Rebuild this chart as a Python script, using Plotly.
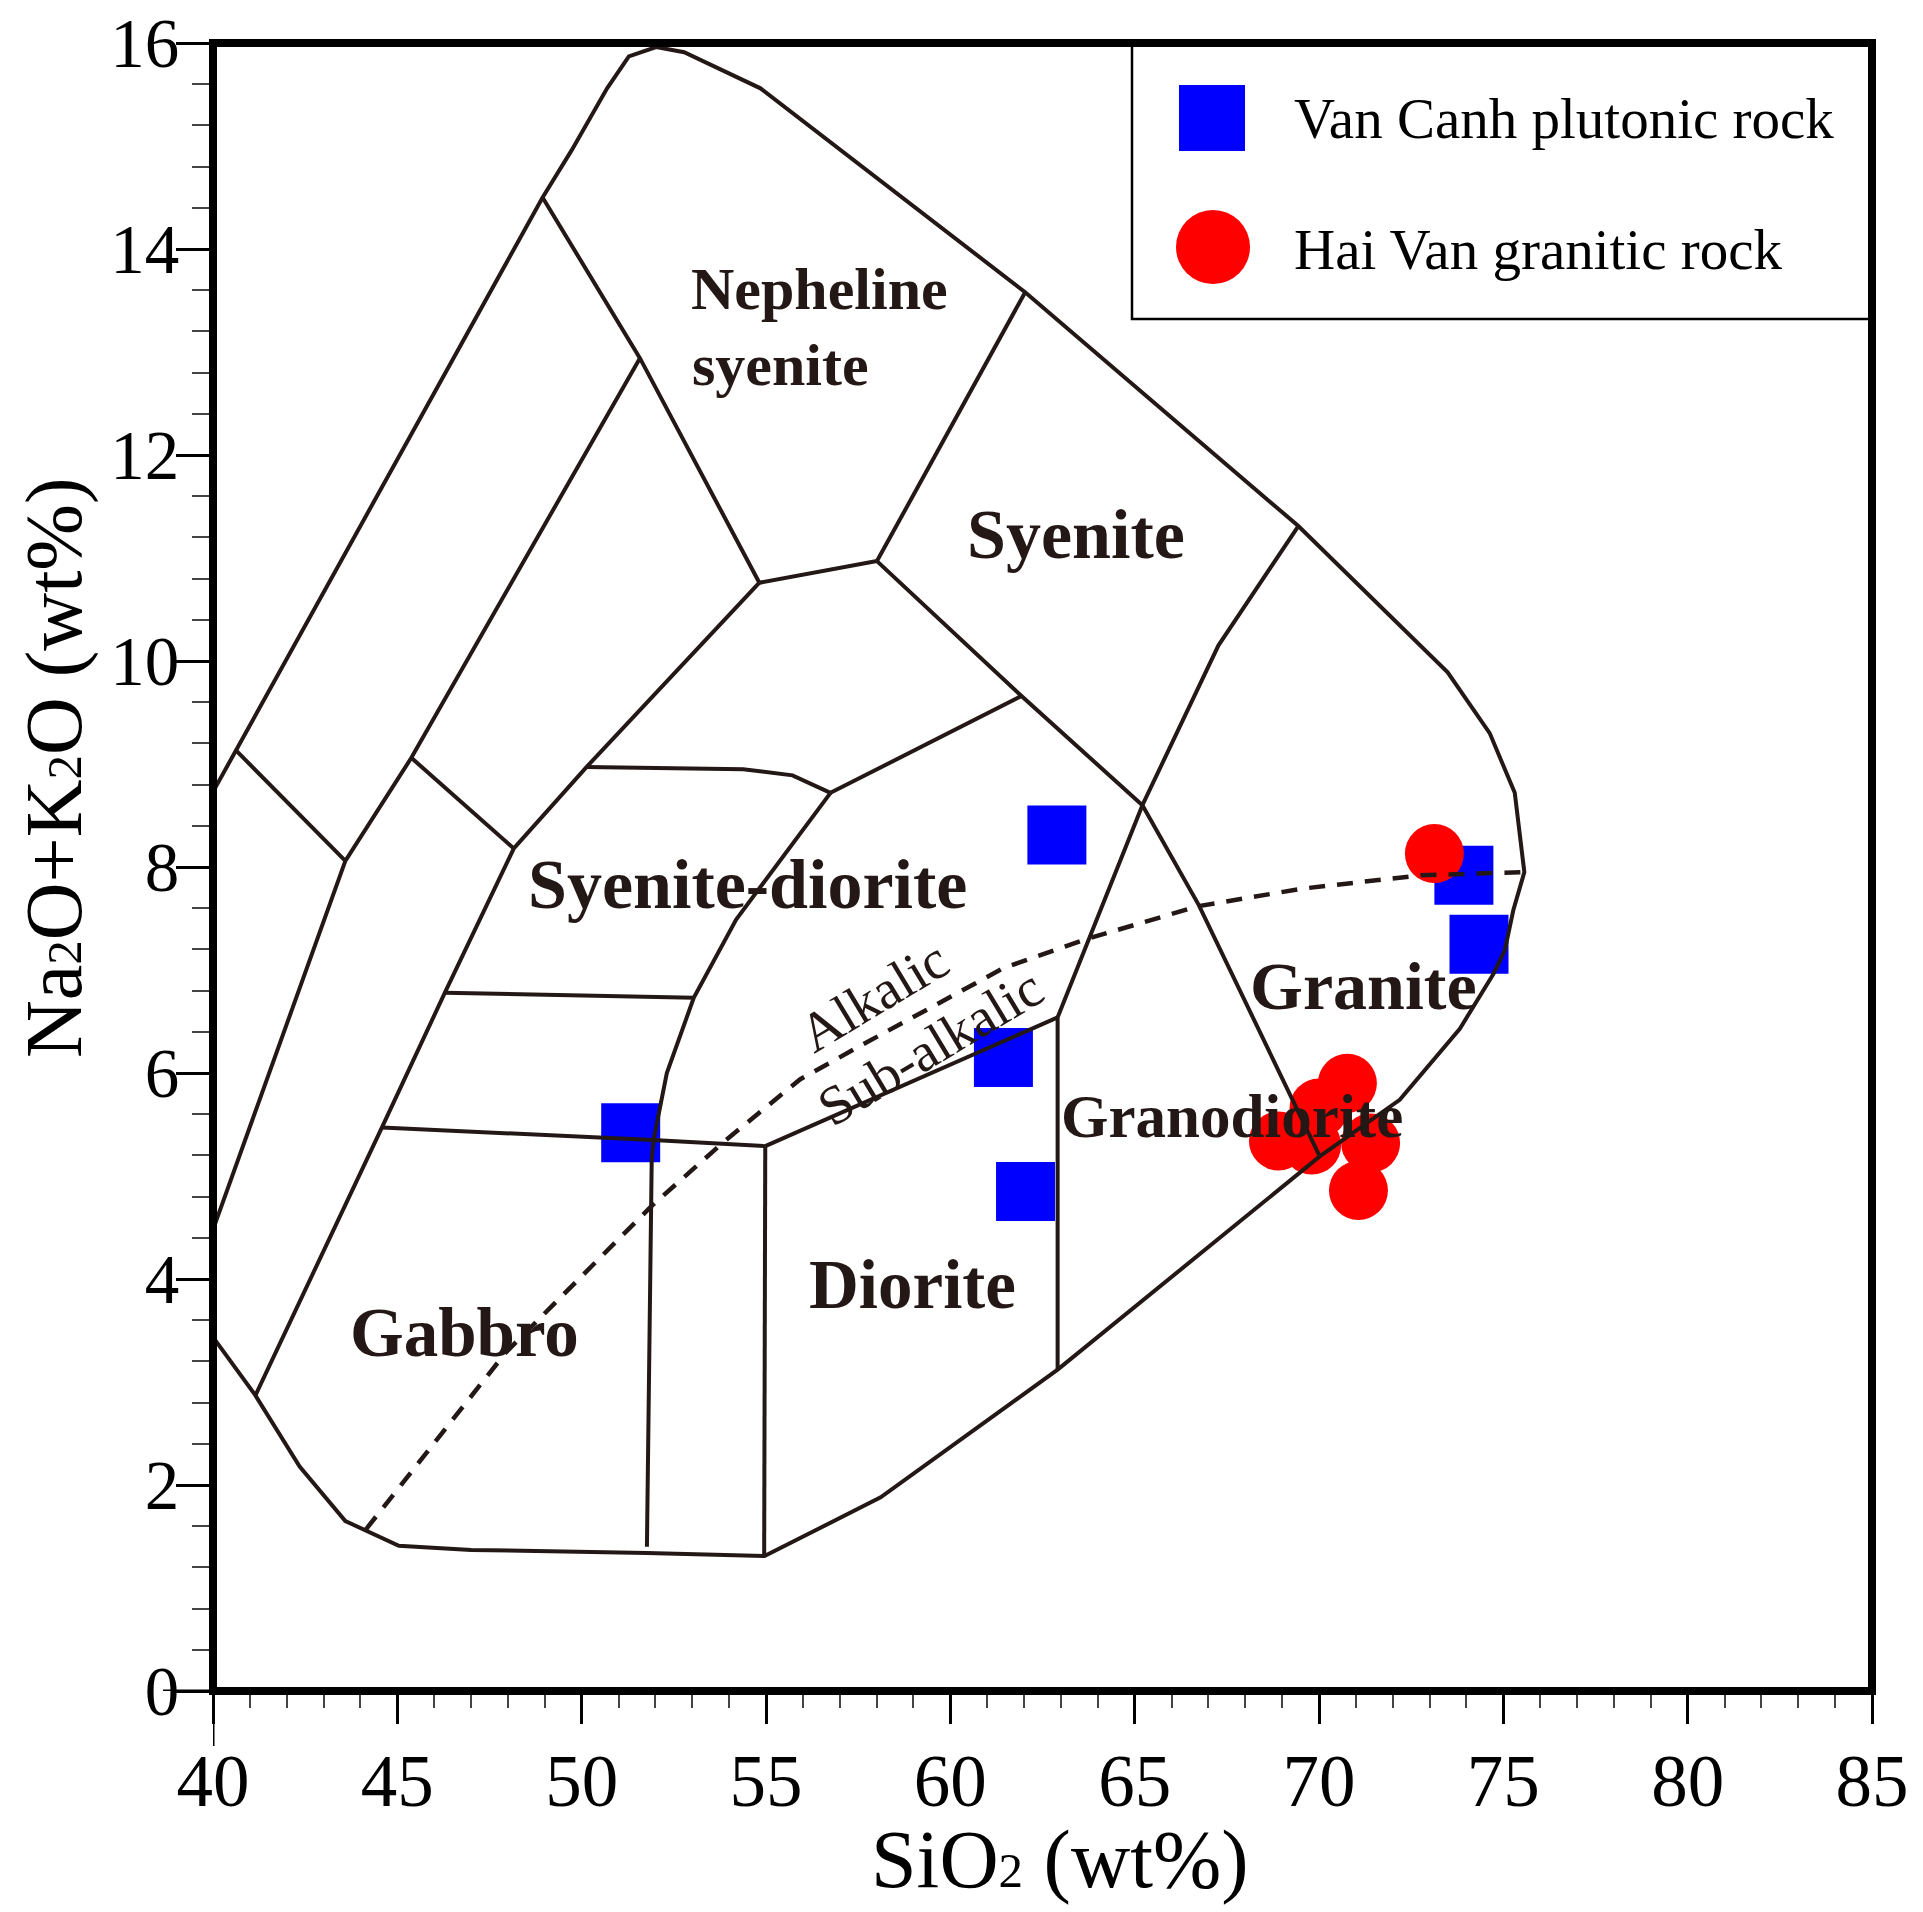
import plotly.graph_objects as go

# ---------------- data ----------------
van_canh_sio2 = [51.33, 62.89, 61.44, 62.04, 73.93, 74.34]
van_canh_alk = [5.42, 8.31, 6.15, 4.85, 7.92, 7.25]

hai_van_sio2 = [73.13, 70.77, 70.00, 68.90, 71.40, 71.07, 69.80]
hai_van_alk = [8.13, 5.90, 5.66, 5.34, 5.32, 4.86, 5.30]

# TAS (plutonic) field boundaries
outer_x = [40.00, 48.94, 49.73, 50.69, 51.28, 52.02, 52.78, 54.85, 62.03, 69.44,
           73.49, 74.63, 75.31, 75.57, 75.27, 75.04, 74.73, 73.82, 72.19, 70.02,
           62.91, 58.11, 54.96, 51.77, 47.00, 45.04, 43.59, 42.35, 41.15, 40.01]
outer_y = [8.73, 14.50, 14.96, 15.56, 15.87, 15.96, 15.91, 15.56, 13.58, 11.31,
           9.89, 9.30, 8.72, 7.95, 7.58, 7.19, 6.96, 6.43, 5.74, 5.19,
           3.12, 1.88, 1.31, 1.34, 1.37, 1.41, 1.65, 2.18, 2.87, 3.43]

l1_x = [48.94, 51.58, 54.82]; l1_y = [14.50, 12.94, 10.76]
l2_x = [54.82, 58.01]; l2_y = [10.76, 10.97]
l3_x = [58.01, 62.03]; l3_y = [10.97, 13.58]
l4_x = [58.01, 61.93, 65.21]; l4_y = [10.97, 9.66, 8.60]
l5_x = [65.21, 67.27, 69.44]; l5_y = [8.60, 10.15, 11.31]
l6_x = [65.21, 66.74, 70.02]; l6_y = [8.60, 7.63, 5.19]
l7_x = [65.21, 62.91, 62.91]; l7_y = [8.60, 6.54, 3.12]
l8_x = [54.82, 50.13, 48.16, 46.29, 44.58, 41.15]; l8_y = [10.76, 8.97, 8.18, 6.78, 5.47, 2.87]
l9_x = [50.13, 54.38, 55.72, 56.75]; l9_y = [8.97, 8.95, 8.89, 8.72]
l10_x = [56.75, 61.93]; l10_y = [8.72, 9.66]
l11_x = [56.75, 54.19, 53.04, 52.31, 51.95, 51.90, 51.77]
l11_y = [8.72, 7.49, 6.73, 6.00, 5.35, 5.16, 1.40]
l12_x = [46.29, 53.04]; l12_y = [6.78, 6.73]
l13_x = [44.58, 51.93, 54.98]; l13_y = [5.47, 5.35, 5.29]
l14_x = [54.98, 54.95]; l14_y = [5.29, 1.31]
l15_x = [54.98, 62.91]; l15_y = [5.29, 6.54]
l16_x = [40.63, 43.59]; l16_y = [9.13, 8.06]
l17_x = [40.00, 43.59, 45.38, 51.58]; l17_y = [4.48, 8.06, 9.06, 12.94]
l18_x = [45.38, 48.16]; l18_y = [9.06, 8.18]

# alkalic / sub-alkalic divide
div_x = [44.15, 47.95, 51.90, 53.85, 55.93, 57.64, 61.45, 63.78, 66.73, 69.55, 72.77, 75.57]
div_y = [1.57, 3.29, 4.71, 5.33, 5.94, 6.28, 7.02, 7.31, 7.62, 7.79, 7.92, 7.95]

x_ticks = [40, 45, 50, 55, 60, 65, 70, 75, 80, 85]
y_ticks = [0, 2, 4, 6, 8, 10, 12, 14, 16]

# ---------------- figure ----------------
W, H = 1923, 1912
PL, PR, PT, PB = 213, 1872, 43, 1691  # plot area, page pixels
LINE = "#231815"
SERIF = "Liberation Serif"


def px(xp):
    return (xp - PL) / (PR - PL)


def py(yp):
    return (PB - yp) / (PB - PT)


fig = go.Figure()

fig.add_trace(go.Scatter(x=van_canh_sio2, y=van_canh_alk, mode="markers",
                         name="Van Canh plutonic rock", showlegend=False,
                         marker=dict(symbol="square", size=59, color="#0000FF",
                                     line=dict(width=0))))
fig.add_trace(go.Scatter(x=hai_van_sio2, y=hai_van_alk, mode="markers",
                         name="Hai Van granitic rock", showlegend=False,
                         marker=dict(symbol="circle", size=59, color="#FF0000",
                                     line=dict(width=0))))

boundaries = [(outer_x, outer_y), (l1_x, l1_y), (l2_x, l2_y), (l3_x, l3_y),
              (l4_x, l4_y), (l5_x, l5_y), (l6_x, l6_y), (l7_x, l7_y),
              (l8_x, l8_y), (l9_x, l9_y), (l10_x, l10_y), (l11_x, l11_y),
              (l12_x, l12_y), (l13_x, l13_y), (l14_x, l14_y), (l15_x, l15_y),
              (l16_x, l16_y), (l17_x, l17_y), (l18_x, l18_y)]
for bx, by in boundaries:
    fig.add_trace(go.Scatter(x=bx, y=by, mode="lines", showlegend=False,
                             hoverinfo="skip",
                             line=dict(color=LINE, width=4)))

fig.add_trace(go.Scatter(x=div_x, y=div_y, mode="lines", showlegend=False,
                         hoverinfo="skip",
                         line=dict(color=LINE, width=4.5, dash="16px,12px")))

# field labels
labels = [
    ("Syenite", 63.41, 11.23, 70, "center"),
    ("Syenite-diorite", 54.51, 7.83, 70, "center"),
    ("Granite", 71.20, 6.84, 68, "center"),
    ("Granodiorite", 67.65, 5.58, 61, "center"),
    ("Diorite", 58.97, 3.94, 69, "center"),
    ("Gabbro", 46.81, 3.48, 69, "center"),
    ("Nepheline", 52.91, 13.61, 60, "left"),
    ("syenite", 52.93, 12.87, 60, "left"),
]
for txt, lx, ly, fs, anc in labels:
    fig.add_annotation(x=lx, y=ly, xref="x", yref="y", text="<b>%s</b>" % txt,
                       showarrow=False, xanchor=anc, yanchor="middle",
                       font=dict(family=SERIF, size=fs, color=LINE))

fig.add_annotation(x=57.92, y=6.74, xref="x", yref="y", text="Alkalic",
                   showarrow=False, textangle=-31,
                   font=dict(family=SERIF, size=55, color=LINE))
fig.add_annotation(x=59.45, y=6.25, xref="x", yref="y", text="Sub-alkalic",
                   showarrow=False, textangle=-31,
                   font=dict(family=SERIF, size=55, color=LINE))

# axis titles
sub2 = "<span style='font-size:49px'>2</span>"
fig.add_annotation(x=px(1060), y=py(1860), xref="paper", yref="paper",
                   text="SiO" + sub2 + " (wt%)", showarrow=False,
                   xanchor="center", yanchor="middle",
                   font=dict(family=SERIF, size=82, color="black"))
fig.add_annotation(x=px(54), y=py(768), xref="paper", yref="paper",
                   text="Na" + sub2 + "O+K" + sub2 + "O (wt%)", showarrow=False,
                   textangle=-90, xanchor="center", yanchor="middle",
                   font=dict(family=SERIF, size=80, color="black"))

# manual legend
fig.add_shape(type="rect", xref="paper", yref="paper",
              x0=px(1132), x1=1, y0=py(319), y1=1,
              line=dict(color="black", width=2.5), fillcolor="white", layer="below")
fig.add_shape(type="rect", xref="paper", yref="paper",
              x0=px(1179), x1=px(1245), y0=py(151), y1=py(85),
              line=dict(width=0), fillcolor="#0000FF")
fig.add_shape(type="circle", xref="paper", yref="paper",
              x0=px(1176), x1=px(1250), y0=py(284), y1=py(210),
              line=dict(width=0), fillcolor="#FF0000")
fig.add_annotation(x=px(1292), y=py(119), xref="paper", yref="paper",
                   text="Van Canh plutonic rock", showarrow=False,
                   xanchor="left", yanchor="middle",
                   font=dict(family=SERIF, size=57, color="black"))
fig.add_annotation(x=px(1292), y=py(249), xref="paper", yref="paper",
                   text="Hai Van granitic rock", showarrow=False,
                   xanchor="left", yanchor="middle",
                   font=dict(family=SERIF, size=57, color="black"))

# thick frame centred on the plot edges
fig.add_shape(type="rect", xref="paper", yref="paper", x0=0, x1=1, y0=0, y1=1,
              line=dict(color="black", width=8), fillcolor="rgba(0,0,0,0)",
              layer="above")

# extended ticks at the origin
fig.add_shape(type="line", xref="x", yref="paper", x0=40, x1=40, y0=0,
              y1=-55 / (PB - PT), line=dict(color="black", width=3))
fig.add_shape(type="line", xref="paper", yref="y", x0=0, x1=-50 / (PR - PL),
              y0=0, y1=0, line=dict(color="black", width=3))

fig.update_xaxes(range=[40, 85], tickvals=x_ticks, ticktext=[str(v) for v in x_ticks],
                 ticks="outside", ticklen=32, tickwidth=2.5, tickcolor="black",
                 showline=False, showgrid=False, zeroline=False,
                 ticklabelstandoff=-6,
                 ticklabeloverflow="allow", automargin=False,
                 tickfont=dict(family=SERIF, size=73, color="black"),
                 minor=dict(dtick=1, ticks="outside", ticklen=16, tickwidth=2,
                            tickcolor="#444444", showgrid=False))
fig.update_yaxes(range=[0, 16], tickvals=y_ticks, ticktext=[str(v) for v in y_ticks],
                 ticks="outside", ticklen=36, tickwidth=2.5, tickcolor="black",
                 showline=False, showgrid=False, zeroline=False,
                 ticklabelstandoff=-17,
                 ticklabeloverflow="allow", automargin=False,
                 tickfont=dict(family=SERIF, size=69, color="black"),
                 minor=dict(dtick=0.4, ticks="outside", ticklen=20, tickwidth=2,
                            tickcolor="#444444", showgrid=False))

fig.update_layout(width=W, height=H,
                  margin=dict(l=PL, r=W - PR, t=PT, b=H - PB, pad=0,
                              autoexpand=False),
                  plot_bgcolor="white", paper_bgcolor="white",
                  showlegend=False)

fig.write_html("out.html",
               config={"displayModeBar": False},
               post_script="document.body.style.margin='0px';"
                           "document.body.style.overflow='hidden';")
